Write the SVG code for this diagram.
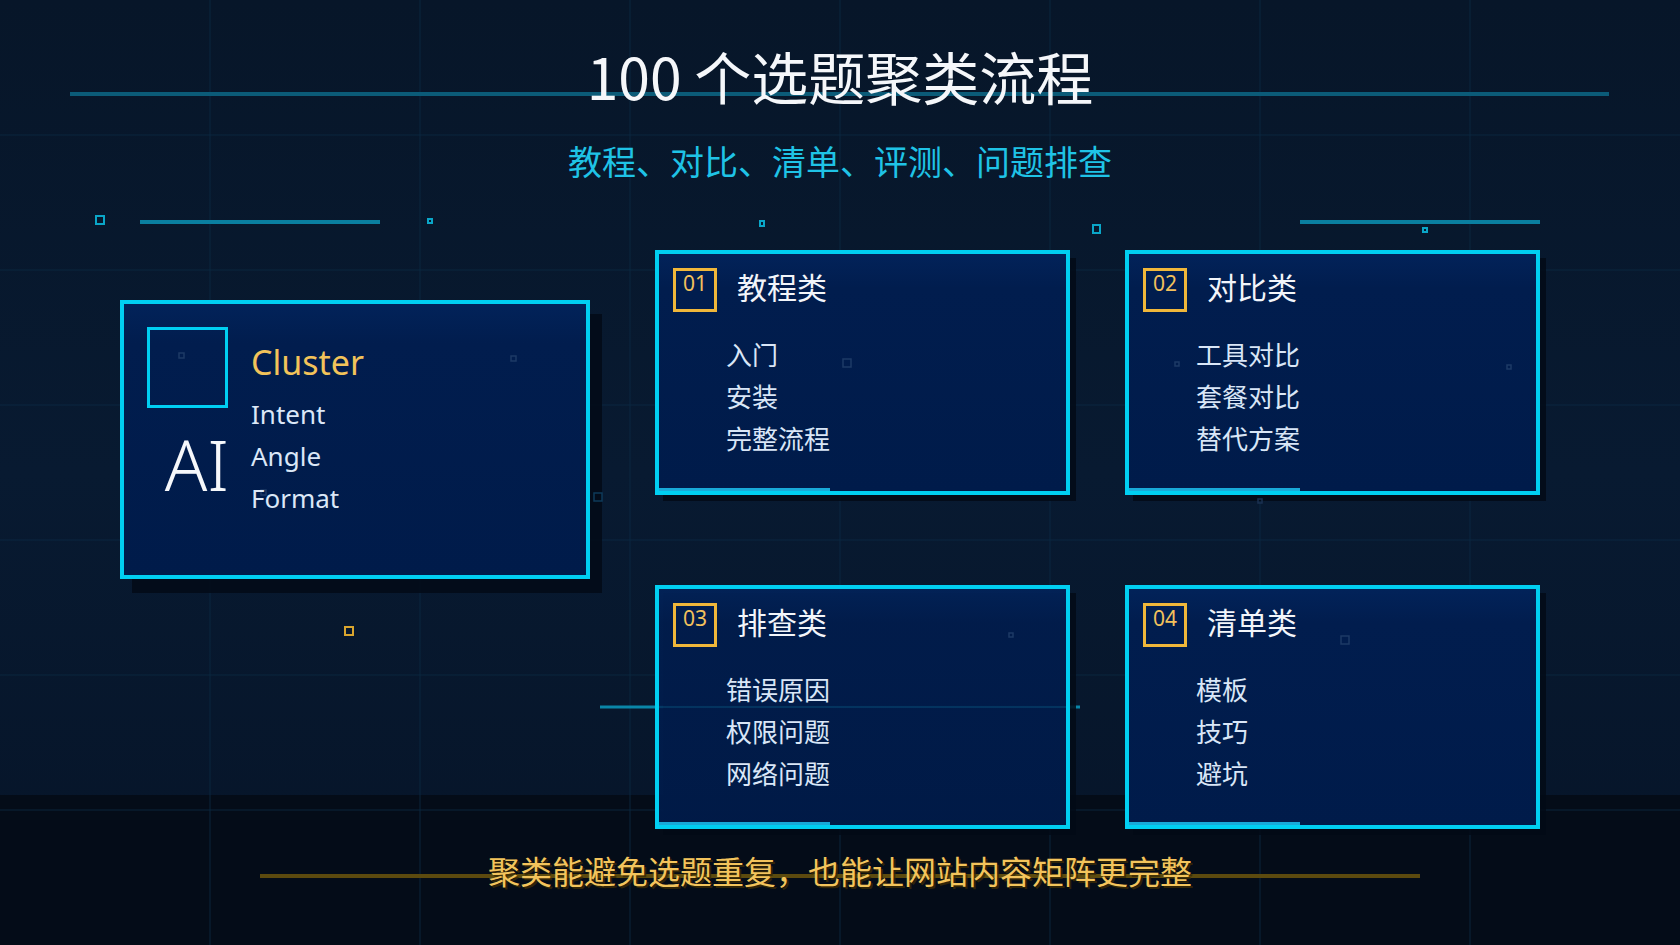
<svg xmlns="http://www.w3.org/2000/svg" width="1680" height="945" viewBox="0 0 1680 945">
<defs>
<linearGradient id="bg" x1="0" y1="0" x2="0" y2="1">
<stop offset="0" stop-color="#071629"/>
<stop offset="0.5" stop-color="#081a31"/>
<stop offset="1" stop-color="#061428"/>
</linearGradient>
<linearGradient id="boxfill" x1="0" y1="0" x2="0" y2="1">
<stop offset="0" stop-color="#02235a"/>
<stop offset="0.15" stop-color="#011d4e"/>
<stop offset="1" stop-color="#001b4a"/>
</linearGradient>
<style>
.grid{stroke:#0c2a44;stroke-width:1;opacity:0.8}
.box{fill:url(#boxfill);stroke:#00cff2;stroke-width:4}
.shadow{fill:#020a16;opacity:0.85}
.badge{fill:none;stroke:#f0b73a;stroke-width:3}
.num{font-family:"Noto Sans","Open Sans",sans-serif;font-size:21px;fill:#f3c15c;text-anchor:middle}
.ctitle{font-family:"Noto Sans CJK SC","Noto Sans",sans-serif;font-size:30px;fill:#f2f5fa}
.item{font-family:"Noto Sans CJK SC","Noto Sans",sans-serif;font-size:26px;fill:#d9e6f7}
.accent{fill:#18aad9}
.dot{fill:none;stroke:#1d3a66;stroke-width:1.5}
.cdot{fill:none;stroke:#0aa6c8;stroke-width:2}
.lat{font-family:"Noto Sans","Open Sans",sans-serif;fill:#dbe7f7;font-size:26px}
</style>
</defs>
<rect x="0" y="0" width="1680" height="945" fill="url(#bg)"/>
<rect x="0" y="795" width="1680" height="150" fill="#040c18"/>
<g id="grid">
<line class="grid" x1="210" y1="0" x2="210" y2="945"/>
<line class="grid" x1="420" y1="0" x2="420" y2="945"/>
<line class="grid" x1="630" y1="0" x2="630" y2="945"/>
<line class="grid" x1="840" y1="0" x2="840" y2="945"/>
<line class="grid" x1="1050" y1="0" x2="1050" y2="945"/>
<line class="grid" x1="1260" y1="0" x2="1260" y2="945"/>
<line class="grid" x1="1470" y1="0" x2="1470" y2="945"/>
<line class="grid" x1="0" y1="135" x2="1680" y2="135"/>
<line class="grid" x1="0" y1="270" x2="1680" y2="270"/>
<line class="grid" x1="0" y1="405" x2="1680" y2="405"/>
<line class="grid" x1="0" y1="540" x2="1680" y2="540"/>
<line class="grid" x1="0" y1="675" x2="1680" y2="675"/>
<line class="grid" x1="0" y1="810" x2="1680" y2="810"/>
</g>
<g id="decor">
<line x1="70" y1="94" x2="1609" y2="94" stroke="#0b5b78" stroke-width="4"/>
<line x1="140" y1="222" x2="380" y2="222" stroke="#0a7fa0" stroke-width="4"/>
<line x1="1300" y1="222" x2="1540" y2="222" stroke="#0a7fa0" stroke-width="4"/>
<rect class="cdot" x="96" y="216" width="8" height="8"/>
<rect class="cdot" x="428" y="219" width="4" height="4"/>
<rect class="cdot" x="760" y="221" width="4" height="5"/>
<rect class="cdot" x="1093" y="225" width="7" height="8"/>
<rect class="cdot" x="1423" y="228" width="4" height="4"/>
<rect x="345" y="627" width="8" height="8" fill="none" stroke="#d9a52e" stroke-width="2"/>
<line x1="260" y1="876" x2="1420" y2="876" stroke="#5c4a0e" stroke-width="4"/>
</g>
<g id="title">
<text x="840" y="100" text-anchor="middle" font-family="Noto Sans CJK SC, Noto Sans, sans-serif" font-size="57" fill="#f5f7fa">100 个选题聚类流程</text>
<text x="840" y="175" text-anchor="middle" font-family="Noto Sans CJK SC, Noto Sans, sans-serif" font-size="34" fill="#1fc3e6">教程、对比、清单、评测、问题排查</text>
</g>
<g id="connectors">
<line x1="600" y1="707" x2="1080" y2="707" stroke="#0a86a8" stroke-width="3"/>
</g>
<g id="cluster">
<rect class="shadow" x="132" y="314" width="470" height="279"/>
<rect class="box" x="122" y="302" width="466" height="275"/>
<rect x="148.5" y="328.5" width="78" height="78" fill="none" stroke="#00cff2" stroke-width="3"/>
<rect class="dot" x="179" y="353" width="5" height="5"/>
<rect class="dot" x="511" y="356" width="5" height="5"/>
<rect class="dot" x="261" y="490" width="5" height="5"/>
<rect x="594" y="493" width="8" height="8" fill="none" stroke="#0e3a5a" stroke-width="1.5"/>
<text x="229" y="491" text-anchor="end" font-family="Noto Sans, Open Sans, sans-serif" font-size="70" font-weight="300" fill="#f6f8fb">AI</text>
<text x="251" y="375" font-family="Noto Sans, Open Sans, sans-serif" font-size="34" fill="#f2c35a">Cluster</text>
<text class="lat" x="251" y="424">Intent</text>
<text class="lat" x="251" y="466">Angle</text>
<text class="lat" x="251" y="508">Format</text>
</g>
<g id="card-01">
<rect class="shadow" x="663" y="258" width="413" height="243"/>
<rect class="box" x="657" y="252" width="411" height="241"/>
<rect class="accent" x="659" y="488" width="171" height="3"/>
<rect class="badge" x="674.5" y="269.5" width="41" height="41"/>
<text class="num" x="695" y="291">01</text>
<text class="ctitle" x="737" y="299">教程类</text>
<text class="item" x="726" y="365">入门</text>
<text class="item" x="726" y="407">安装</text>
<text class="item" x="726" y="449">完整流程</text>
<rect class="dot" x="843" y="359" width="8" height="8"/>
</g>
<g id="card-02">
<rect class="shadow" x="1133" y="258" width="413" height="243"/>
<rect class="box" x="1127" y="252" width="411" height="241"/>
<rect class="accent" x="1129" y="488" width="171" height="3"/>
<rect class="badge" x="1144.5" y="269.5" width="41" height="41"/>
<text class="num" x="1165" y="291">02</text>
<text class="ctitle" x="1207" y="299">对比类</text>
<text class="item" x="1196" y="365">工具对比</text>
<text class="item" x="1196" y="407">套餐对比</text>
<text class="item" x="1196" y="449">替代方案</text>
<rect class="dot" x="1175" y="362" width="4" height="4"/>
<rect class="dot" x="1507" y="365" width="4" height="4"/>
<rect x="1258" y="499" width="4" height="4" fill="none" stroke="#1a3150" stroke-width="1.5"/>
</g>
<g id="card-03">
<rect class="shadow" x="663" y="593" width="413" height="242"/>
<rect class="box" x="657" y="587" width="411" height="240" fill-opacity="0.93"/>
<line x1="659" y1="707" x2="1066" y2="707" stroke="#0a5f86" stroke-width="2" opacity="0.35"/>
<rect class="accent" x="659" y="822" width="171" height="3"/>
<rect class="badge" x="674.5" y="604.5" width="41" height="41"/>
<text class="num" x="695" y="626">03</text>
<text class="ctitle" x="737" y="634">排查类</text>
<text class="item" x="726" y="700">错误原因</text>
<text class="item" x="726" y="742">权限问题</text>
<text class="item" x="726" y="784">网络问题</text>
<rect class="dot" x="1009" y="633" width="4" height="4"/>
</g>
<g id="card-04">
<rect class="shadow" x="1133" y="593" width="413" height="242"/>
<rect class="box" x="1127" y="587" width="411" height="240"/>
<rect class="accent" x="1129" y="822" width="171" height="3"/>
<rect class="badge" x="1144.5" y="604.5" width="41" height="41"/>
<text class="num" x="1165" y="626">04</text>
<text class="ctitle" x="1207" y="634">清单类</text>
<text class="item" x="1196" y="700">模板</text>
<text class="item" x="1196" y="742">技巧</text>
<text class="item" x="1196" y="784">避坑</text>
<rect class="dot" x="1341" y="636" width="8" height="8"/>
</g>
<g id="footer">
<text x="840" y="884" text-anchor="middle" font-family="Noto Sans CJK SC, Noto Sans, sans-serif" font-size="32" fill="#3a2a05" opacity="0.8" transform="translate(2,2)">聚类能避免选题重复，也能让网站内容矩阵更完整</text>
<text x="840" y="884" text-anchor="middle" font-family="Noto Sans CJK SC, Noto Sans, sans-serif" font-size="32" fill="#f3c45c">聚类能避免选题重复，也能让网站内容矩阵更完整</text>
</g>
</svg>
